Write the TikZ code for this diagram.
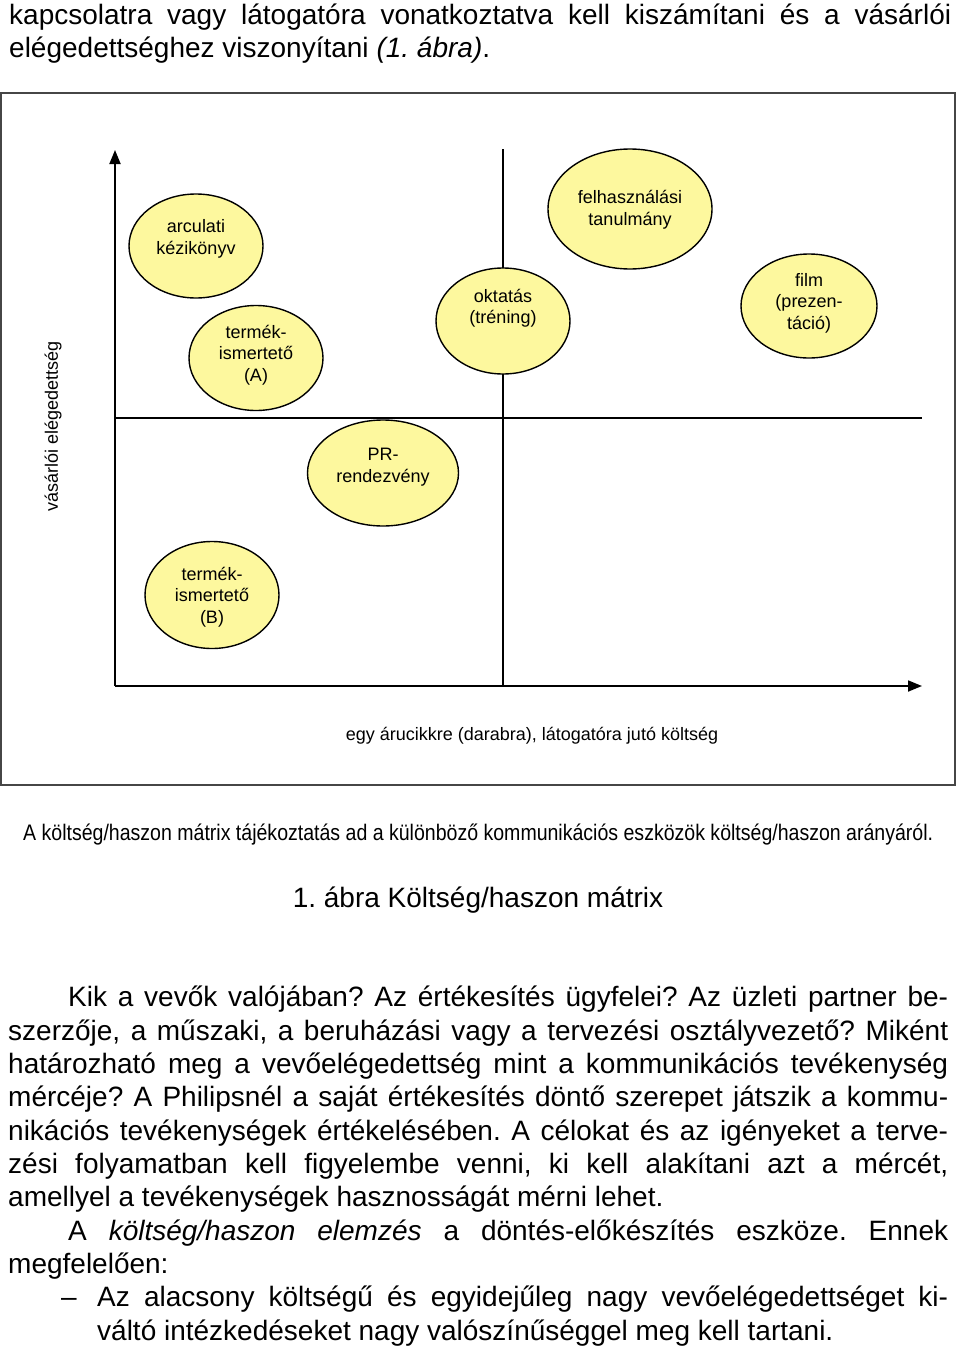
\documentclass[tikz,border=0pt]{standalone}
\usepackage{fontspec}
\setmainfont{Liberation Sans}
\usepackage{graphicx}
\usetikzlibrary{shapes.geometric,arrows.meta}
\definecolor{bubblefill}{RGB}{253,248,158}
\definecolor{framegray}{RGB}{70,70,70}
\frenchspacing
\begin{document}
\frenchspacing
\begin{tikzpicture}[x=1pt,y=-1pt,
  bubble/.style={ellipse, draw=black, line width=1.4pt, fill=bubblefill, inner sep=0pt},
  btext/.style={align=center, font=\fontsize{18}{21.5}\selectfont, inner sep=0pt},
  body/.style={anchor=base west, inner sep=0pt, font=\fontsize{28}{33}\selectfont},
  axisline/.style={line width=1.8pt, -{Triangle[length=14pt,width=11pt]}},
  midline/.style={line width=1.6pt},
  lbl/.style={inner sep=0pt, font=\fontsize{18}{21.5}\selectfont},
]
\useasboundingbox (0,0) rectangle (960,1346);

% top text
\node[body] (t1) at (9,25) {\makebox[942pt][s]{kapcsolatra vagy látogatóra vonatkoztatva kell kiszámítani és a vásárlói}};
\node[body] (t2) at (9,58) {elégedettséghez viszonyítani \textit{(1. ábra)}.};

% frame
\coordinate (f1) at (1,93);
\coordinate (f2) at (955,785);
\draw[framegray, line width=1.8pt] (f1) rectangle (f2);

% axes and quadrant lines
\coordinate (O) at (115,686);
\coordinate (ytop) at (115,150);
\coordinate (xend) at (922,686);
\coordinate (mt) at (503,149);
\coordinate (mb) at (503,686);
\coordinate (ml) at (115,418);
\coordinate (mr) at (922,418);
\draw[midline] (mt) -- (mb);
\draw[midline] (ml) -- (mr);
\draw[axisline] (O) -- (ytop);
\draw[axisline] (O) -- (xend);

% bubbles
\node[bubble, minimum width=134pt, minimum height=104pt] (arc) at (196,246) {};
\node[btext] (arct) at (196,239) {arculati\\kézikönyv};
\node[bubble, minimum width=134pt, minimum height=105pt] (tA) at (256,358) {};
\node[btext] (tAt) at (256,355) {termék-\\ismertető\\(A)};
\node[bubble, minimum width=134pt, minimum height=106pt] (okt) at (503,321) {};
\node[btext] (oktt) at (503,308) {oktatás\\(tréning)};
\node[bubble, minimum width=164pt, minimum height=120pt] (felh) at (630,209) {};
\node[btext] (felht) at (630,209.5) {felhasználási\\tanulmány};
\node[bubble, minimum width=136pt, minimum height=104pt] (film) at (809,306) {};
\node[btext] (filmt) at (809,303) {film\\(prezen-\\táció)};
\node[bubble, minimum width=151pt, minimum height=106pt] (pr) at (383,473) {};
\node[btext] (prt) at (383,467) {PR-\\rendezvény};
\node[bubble, minimum width=134pt, minimum height=107pt] (tB) at (212,595) {};
\node[btext] (tBt) at (212,597) {termék-\\ismertető\\(B)};

% axis labels
\node[lbl] (xl) at (532,736) {egy árucikkre (darabra), látogatóra jutó költség};
\node[lbl, rotate=90] (yl) at (53,426) {vásárlói elégedettség};

% statement and caption
\node[anchor=base west, inner sep=0pt] (stmt) at (23,840) {\resizebox{910pt}{\height}{\fontsize{22.5}{26}\selectfont A költség/haszon mátrix tájékoztatás ad a különböző kommunikációs eszközök költség/haszon arányáról.}};
\node[anchor=base, inner sep=0pt, font=\fontsize{28}{33}\selectfont] (cap) at (478,907) {1. ábra Költség/haszon mátrix};

% body text
\node[body] (b1) at (68,1006.7) {\makebox[880pt][s]{Kik a vevők valójában? Az értékesítés ügyfelei? Az üzleti partner be-}};
\node[body] (b2) at (8,1040) {\makebox[940pt][s]{szerzője, a műszaki, a beruházási vagy a tervezési osztályvezető? Miként}};
\node[body] (b3) at (8,1073.3) {\makebox[940pt][s]{határozható meg a vevőelégedettség mint a kommunikációs tevékenység}};
\node[body] (b4) at (8,1106.7) {\makebox[940pt][s]{mércéje? A Philipsnél a saját értékesítés döntő szerepet játszik a kommu-}};
\node[body] (b5) at (8,1140) {\makebox[940pt][s]{nikációs tevékenységek értékelésében. A célokat és az igényeket a terve-}};
\node[body] (b6) at (8,1173.3) {\makebox[940pt][s]{zési folyamatban kell figyelembe venni, ki kell alakítani azt a mércét,}};
\node[body] (b7) at (8,1206.7) {amellyel a tevékenységek hasznosságát mérni lehet.};
\node[body] (b8) at (68,1240) {\makebox[880pt][s]{A \textit{költség/haszon elemzés} a döntés-előkészítés eszköze. Ennek}};
\node[body] (b9) at (8,1273.3) {megfelelően:};
\node[body] (dash) at (61,1306.7) {–};
\node[body] (b10) at (97,1306.7) {\makebox[851pt][s]{Az alacsony költségű és egyidejűleg nagy vevőelégedettséget ki-}};
\node[body] (b11) at (97,1340) {váltó intézkedéseket nagy valószínűséggel meg kell tartani.};
\end{tikzpicture}
\end{document}
